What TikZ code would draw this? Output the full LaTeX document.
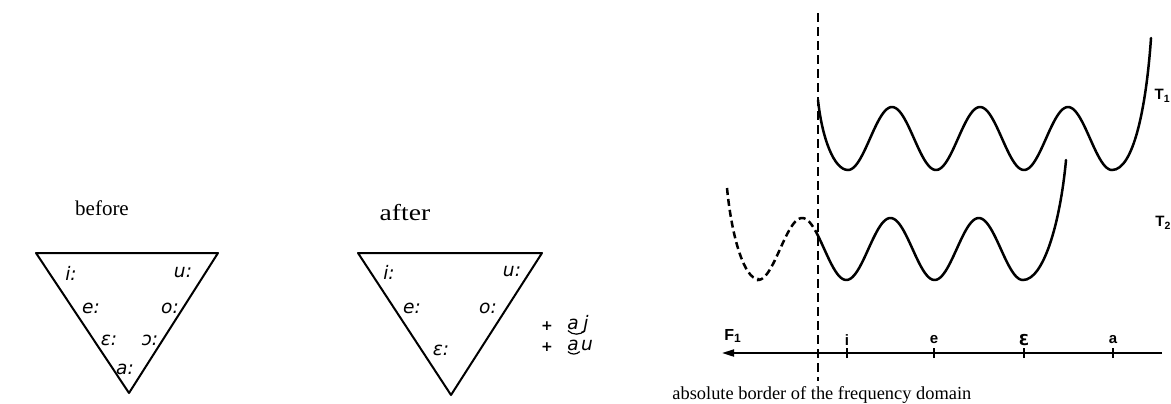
\documentclass[tikz,border=0pt]{standalone}
\usepackage{fontspec}
\setmainfont{Liberation Serif}
\newfontfamily\vowf{DejaVu Sans}
\newfontfamily\axf{Liberation Sans}
\newfontfamily\dvb{DejaVu Sans}
\usetikzlibrary{arrows.meta}
\begin{document}
\begin{tikzpicture}[x=0.5pt,y=-0.5pt,
  vowel/.style={font=\vowf\itshape\fontsize{9.3}{9.3}\selectfont, inner sep=0pt},
  tri/.style={line width=1pt, line join=round},
  curve/.style={line width=1.25pt, line cap=round},
  dcurve/.style={line width=1.25pt, dash pattern=on 3.5pt off 2pt},
  border/.style={line width=0.9pt, dash pattern=on 4.5pt off 2.5pt},
  axisline/.style={line width=1pt},
  axlab/.style={font=\axf\bfseries\fontsize{7.5}{7.5}\selectfont, inner sep=0pt},
  ttl/.style={font=\fontsize{10.5}{10.5}\selectfont, inner sep=0pt}]
\useasboundingbox (0,0) rectangle (1171,403);

% ---------- before ----------
\node[ttl] (before) at (102,208) {before};
\coordinate (b1) at (36,253);
\coordinate (b2) at (218,253);
\coordinate (b3) at (129,393);
\draw[tri] (b1) -- (b2) -- (b3) -- cycle;
\node[vowel] (bi) at (71,273) {i:};
\node[vowel] (bu) at (183,273) {u:};
\node[vowel] (be) at (91,308) {e:};
\node[vowel] (bo) at (170,308) {o:};
\node[vowel] (beps) at (109,340) {ɛ:};
\node[vowel] (bopen) at (150,340) {ɔ:};
\node[vowel] (ba) at (125,369) {a:};

% ---------- after ----------
\node[ttl, font=\fontsize{11.5}{11.5}\selectfont, xscale=1.2] (after) at (405,213) {after};
\coordinate (a1) at (358,253);
\coordinate (a2) at (542,253);
\coordinate (a3) at (451,395);
\draw[tri] (a1) -- (a2) -- (a3) -- cycle;
\node[vowel] (ai) at (389,272) {i:};
\node[vowel] (au) at (512,272) {u:};
\node[vowel] (ae) at (412,308) {e:};
\node[vowel] (ao) at (488,308) {o:};
\node[vowel] (aeps) at (441,350) {ɛ:};

\node[font=\vowf\bfseries\fontsize{7}{7}\selectfont, inner sep=0pt] (p1) at (547,326) {+};
\node[font=\vowf\bfseries\fontsize{7}{7}\selectfont, inner sep=0pt] (p2) at (547,347) {+};
\node[vowel, anchor=base] (da1) at (573,329) {a};
\node[vowel, anchor=base] (dj) at (586,329) {j};
\node[vowel, anchor=base] (da2) at (573,350) {a};
\node[vowel, anchor=base] (du) at (587,350) {u};
\draw[line width=0.6pt] ([xshift=0.5pt,yshift=-0.8pt]da1.base west) to[bend right=45] ([xshift=-0.5pt,yshift=-0.8pt]dj.base);
\draw[line width=0.6pt] ([xshift=0.5pt,yshift=-0.8pt]da2.base west) to[bend right=45] ([xshift=-0.5pt,yshift=-0.8pt]du.base west);

% ---------- frequency graph ----------
\coordinate (vt) at (818,13);
\coordinate (vb) at (818,381);
\draw[border] (vt) -- (vb);

% T1
\draw[curve] (818,100) .. controls (822,138) and (834,170) .. (848,170)
  -- plot[domain=848:1112, samples=150] (\x,{138.5+31.5*cos((\x-848)/88*360)})
  .. controls (1133,170) and (1146,110) .. (1151,38);
\node[axlab, anchor=east] (T1) at (1171,96) {T\textsubscript{1}};

% T2 dashed part
\draw[dcurve] (727,188) .. controls (732,240) and (745,279) .. (758,279)
  -- plot[domain=758:818, samples=40] (\x,{249+31*cos((\x-758)/88.3*360)});
% T2 solid part
\draw[curve] plot[domain=818:1023, samples=120] (\x,{249+31*cos((\x-758)/88.3*360)})
  .. controls (1043,280) and (1060,225) .. (1066,160);
\node[axlab, anchor=west] (T2) at (1155,223) {T\textsubscript{2}};

% axis
\coordinate (axR) at (1162,353);
\coordinate (axL) at (722,353);
\draw[axisline, -{Triangle[length=6pt,width=3.5pt]}] (axR) -- (axL);
\foreach \n/\xx in {ti/847, te/934, tE/1024, ta/1113}{
  \coordinate (\n) at (\xx,353);
  \draw[line width=0.8pt] ([yshift=-2.5pt]\n) -- ([yshift=2.5pt]\n);
}
\node[axlab] (li) at (847,340) {i};
\node[axlab] (le) at (934,340) {e};
\node[axlab, font=\dvb\bfseries\fontsize{7.5}{7.5}\selectfont] (lE) at (1024,340) {Ɛ};
\node[axlab] (la) at (1113,340) {a};
\node[axlab, font=\axf\bfseries\fontsize{8}{8}\selectfont] (F1) at (733,336) {F\textsubscript{1}};

\node[anchor=west, inner sep=0pt, font=\fontsize{9.2}{10}\selectfont] (cap) at (672,395) {absolute border of the frequency domain};
\end{tikzpicture}
\end{document}
